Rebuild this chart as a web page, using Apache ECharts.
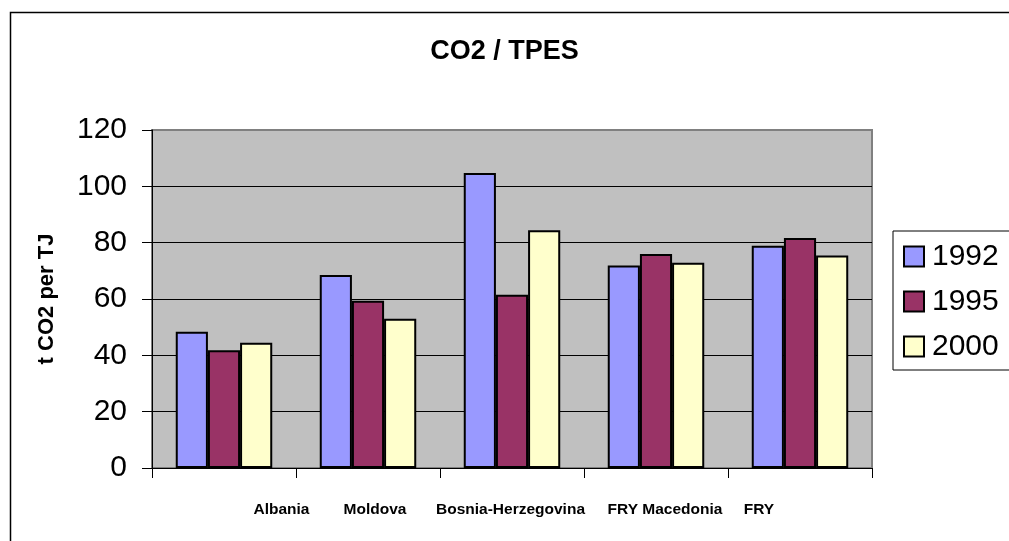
<!DOCTYPE html>
<html>
<head>
<meta charset="utf-8">
<title>CO2 / TPES</title>
<script src="https://cdn.jsdelivr.net/npm/echarts@6/dist/echarts.min.js"></script>
<style>
  html, body { margin: 0; padding: 0; background: #ffffff; }
  #chart { width: 1009px; height: 541px; }
</style>
</head>
<body>
<div id="chart"></div>
<script>
// Countries and CO2 intensity of primary energy supply (t CO2 per TJ)
const countries = ['Albania', 'Moldova', 'Bosnia-Herzegovina', 'FRY Macedonia', 'FRY'];
const years = ['1992', '1995', '2000'];
const values1992 = [48.4, 68.5, 104.7, 71.9, 78.9];
const values1995 = [41.8, 59.4, 61.5, 76.0, 81.7];
const values2000 = [44.5, 53.0, 84.4, 72.9, 75.4];
const yTicks = [0, 20, 40, 60, 80, 100, 120];

const FONT = '"Liberation Sans", Arial, Helvetica, sans-serif';
const colors = ['#9999FF', '#993366', '#FFFFCC'];

// Per-label horizontal nudges for the category captions
const labelPads = [[0, 0, 0, 115], [0, 0, 0, 14], [0, 3, 0, 0], [0, 0, 0, 18], [0, 82, 0, 0]];
const rich = {};
labelPads.forEach((p, i) => {
  rich['c' + i] = { fontFamily: FONT, fontSize: 15.5, fontWeight: 'bold', color: '#000', padding: p };
});

const seriesData = [values1992, values1995, values2000];

const chart = echarts.init(document.getElementById('chart'), null, { renderer: 'canvas' });
chart.setOption({
  animation: false,
  backgroundColor: '#ffffff',
  title: {
    text: 'CO2 / TPES',
    left: 'center',
    top: 33,
    textStyle: { fontFamily: FONT, fontSize: 27, fontWeight: 'bold', color: '#000' }
  },
  graphic: [{
    type: 'rect',
    left: 8, top: 10,
    shape: { width: 1100, height: 600 },
    style: { fill: 'none', stroke: '#000', lineWidth: 1.5 },
    z: -1, silent: true
  }],
  legend: {
    orient: 'vertical',
    left: 893,
    top: 231,
    data: years,
    icon: 'rect',
    itemWidth: 20,
    itemHeight: 20,
    itemGap: 14,
    padding: [10, 40, 8, 10],
    backgroundColor: '#ffffff',
    borderColor: '#000',
    borderWidth: 1,
    textStyle: { fontFamily: FONT, fontSize: 30, color: '#000', lineHeight: 31, padding: [0, 0, 0, 3] }
  },
  grid: {
    left: 152, top: 130, width: 720, height: 338,
    show: true,
    backgroundColor: '#C0C0C0',
    borderColor: '#808080',
    borderWidth: 2
  },
  xAxis: {
    type: 'category',
    data: countries,
    axisLine: { lineStyle: { color: '#000', width: 1 } },
    axisTick: { show: true, length: 10, lineStyle: { color: '#000' } },
    axisLabel: {
      interval: 0,
      margin: 34,
      formatter: (v, i) => '{c' + i + '|' + v + '}',
      rich: rich
    },
    splitLine: { show: false }
  },
  yAxis: {
    type: 'value',
    min: 0, max: 120, interval: 20,
    name: 't CO2 per TJ',
    nameLocation: 'middle',
    nameRotate: 90,
    nameGap: 94,
    nameTextStyle: { fontFamily: FONT, fontSize: 22, fontWeight: 'bold', color: '#000' },
    axisLine: { show: true, lineStyle: { color: '#000', width: 1 } },
    axisTick: { show: true, length: 10, lineStyle: { color: '#000' } },
    axisLabel: {
      margin: 25,
      fontFamily: FONT, fontSize: 30, color: '#000',
      formatter: v => (yTicks.indexOf(v) >= 0 ? String(v) : '')
    },
    splitLine: { show: true, lineStyle: { color: ['#000', '#000', '#000', '#000', '#000', '#000', '#808080'], width: 1 } }
  },
  series: years.map((y, i) => ({
    name: y,
    type: 'bar',
    data: seriesData[i],
    barGap: '0%',
    barCategoryGap: '33%',
    itemStyle: { color: colors[i], borderColor: '#000', borderWidth: 2 }
  }))
});
</script>
</body>
</html>
